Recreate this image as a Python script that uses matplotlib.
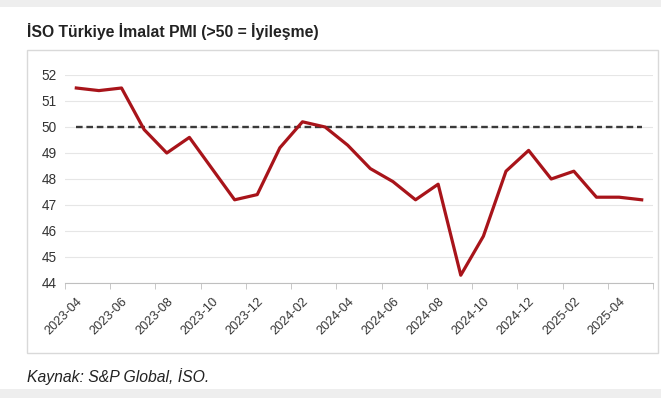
import matplotlib.pyplot as plt
from matplotlib.patches import Rectangle

plt.rcParams['font.family'] = ['Liberation Sans', 'DejaVu Sans']

# ISO Turkey manufacturing PMI, monthly
months = ['2023-04', '2023-05', '2023-06', '2023-07', '2023-08', '2023-09',
          '2023-10', '2023-11', '2023-12', '2024-01', '2024-02', '2024-03',
          '2024-04', '2024-05', '2024-06', '2024-07', '2024-08', '2024-09',
          '2024-10', '2024-11', '2024-12', '2025-01', '2025-02', '2025-03',
          '2025-04', '2025-05']
pmi = [51.5, 51.4, 51.5, 49.9, 49.0, 49.6,
       48.4, 47.2, 47.4, 49.2, 50.2, 50.0,
       49.3, 48.4, 47.9, 47.2, 47.8, 44.3,
       45.8, 48.3, 49.1, 48.0, 48.3, 47.3,
       47.3, 47.2]
threshold = 50
y_ticks = [44, 45, 46, 47, 48, 49, 50, 51, 52]

fig = plt.figure(figsize=(6.61, 3.98), dpi=100)
fig.patch.set_facecolor('white')

# grey page bands and the chart frame
fig.patches.append(Rectangle((0, 1 - 7 / 398), 1, 7 / 398, transform=fig.transFigure,
                             facecolor='#eeeeee', edgecolor='none'))
fig.patches.append(Rectangle((0, 0), 1, 9 / 398, transform=fig.transFigure,
                             facecolor='#eeeeee', edgecolor='none'))
fig.patches.append(Rectangle((27 / 661, 1 - 353 / 398), 631 / 661, 303 / 398,
                             transform=fig.transFigure, facecolor='none',
                             edgecolor='#d9d9d9', linewidth=1.0))

ax = fig.add_axes([65 / 661, 1 - 283 / 398, 588 / 661, 208 / 398])
x = list(range(len(months)))

ax.plot(x, [threshold] * len(months), color='#3a3a3a', linewidth=1.7,
        dashes=(2.8, 1.6), zorder=2)
ax.plot(x, pmi, color='#a8141a', linewidth=2.3, zorder=3)

ax.set_xlim(-0.5, len(months) - 0.5)
ax.set_ylim(44, 52)
ax.set_yticks(y_ticks)
ax.grid(axis='y', color='#e6e6e6', linewidth=0.8)
ax.set_axisbelow(True)

for side in ['top', 'right', 'left']:
    ax.spines[side].set_visible(False)
ax.spines['bottom'].set_color('#bfbfbf')
ax.spines['bottom'].set_zorder(1)

# labels every second month, tick marks between categories
ax.set_xticks(x[::2])
ax.set_xticklabels(months[::2], rotation=45, ha='right', rotation_mode='anchor')
ax.set_xticks([i - 0.5 for i in range(0, len(months) + 1, 2)], minor=True)
ax.tick_params(axis='x', which='major', length=0, pad=9, labelsize=9.2, labelcolor='#333333')
ax.tick_params(axis='x', which='minor', length=4, color='#bfbfbf')
ax.tick_params(axis='y', length=0, pad=6, labelsize=9.8, labelcolor='#333333')

fig.text(27 / 661, 1 - 31 / 398, 'İSO Türkiye İmalat PMI (>50 = İyileşme)',
         fontsize=11.3, fontweight='bold', color='#222222', va='center')
fig.text(27 / 661, 1 - 377 / 398, 'Kaynak: S&P Global, İSO.',
         fontsize=11.3, style='italic', color='#222222', va='center')

fig.savefig('out.png', dpi=100)
